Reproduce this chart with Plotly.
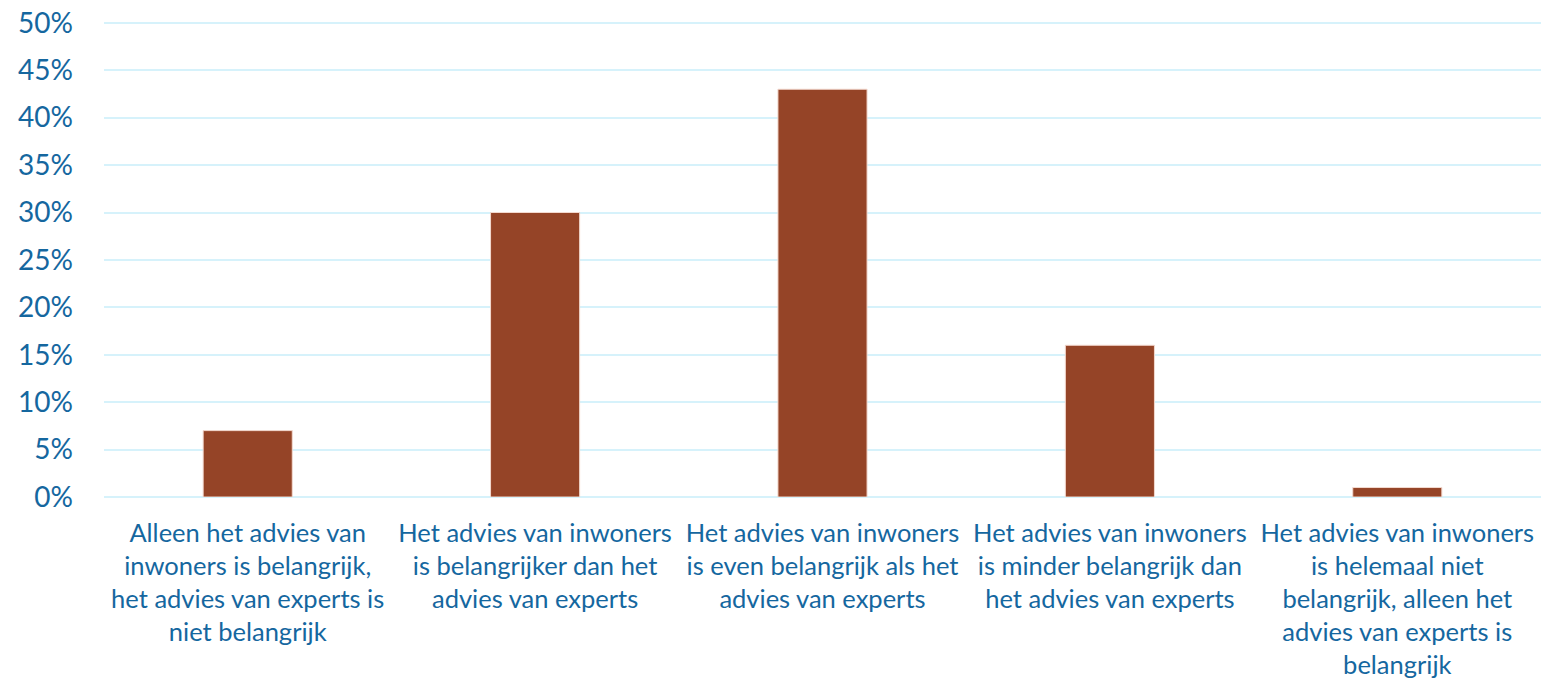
import plotly.graph_objects as go

# answer categories (wrapped as in the original chart)
categories = [
    "Alleen het advies van<br>inwoners is belangrijk,<br>het advies van experts is<br>niet belangrijk",
    "Het advies van inwoners<br>is belangrijker dan het<br>advies van experts",
    "Het advies van inwoners<br>is even belangrijk als het<br>advies van experts",
    "Het advies van inwoners<br>is minder belangrijk dan<br>het advies van experts",
    "Het advies van inwoners<br>is helemaal niet<br>belangrijk, alleen het<br>advies van experts is<br>belangrijk",
]
percentages = [7, 30, 43, 16, 1]

text_color = "#15679f"
grid_color = "#d6f2fb"
font_family = "Lato, 'Noto Sans', sans-serif"

fig = go.Figure(
    go.Bar(
        x=categories,
        y=percentages,
        marker=dict(color="#954427", line=dict(color="#f3d9cf", width=1)),
        hoverinfo="skip",
    )
)

# page body adds an 8px margin, so the figure is 8px smaller each way
fig.update_layout(
    width=1541,
    height=672,
    margin=dict(l=96, r=8, t=12, b=183),
    paper_bgcolor="white",
    plot_bgcolor="white",
    bargap=0.69,
    showlegend=False,
    font=dict(family=font_family, size=25, color=text_color),
)

fig.update_xaxes(
    automargin=False,
    showgrid=False,
    showline=False,
    ticks="",
    tickangle=0,
    ticklabelstandoff=18,
    tickfont=dict(size=25.5, color=text_color),
)

fig.update_yaxes(
    automargin=False,
    range=[0, 50.3],
    tickmode="linear",
    tick0=0,
    dtick=5,
    ticksuffix="%",
    ticklabeloverflow="allow",
    showgrid=True,
    gridcolor=grid_color,
    gridwidth=2,
    zeroline=True,
    zerolinecolor=grid_color,
    zerolinewidth=2,
    showline=False,
    ticks="",
    ticklabelstandoff=30,
    tickfont=dict(size=28, color=text_color),
)

fig.write_html("out.html")
